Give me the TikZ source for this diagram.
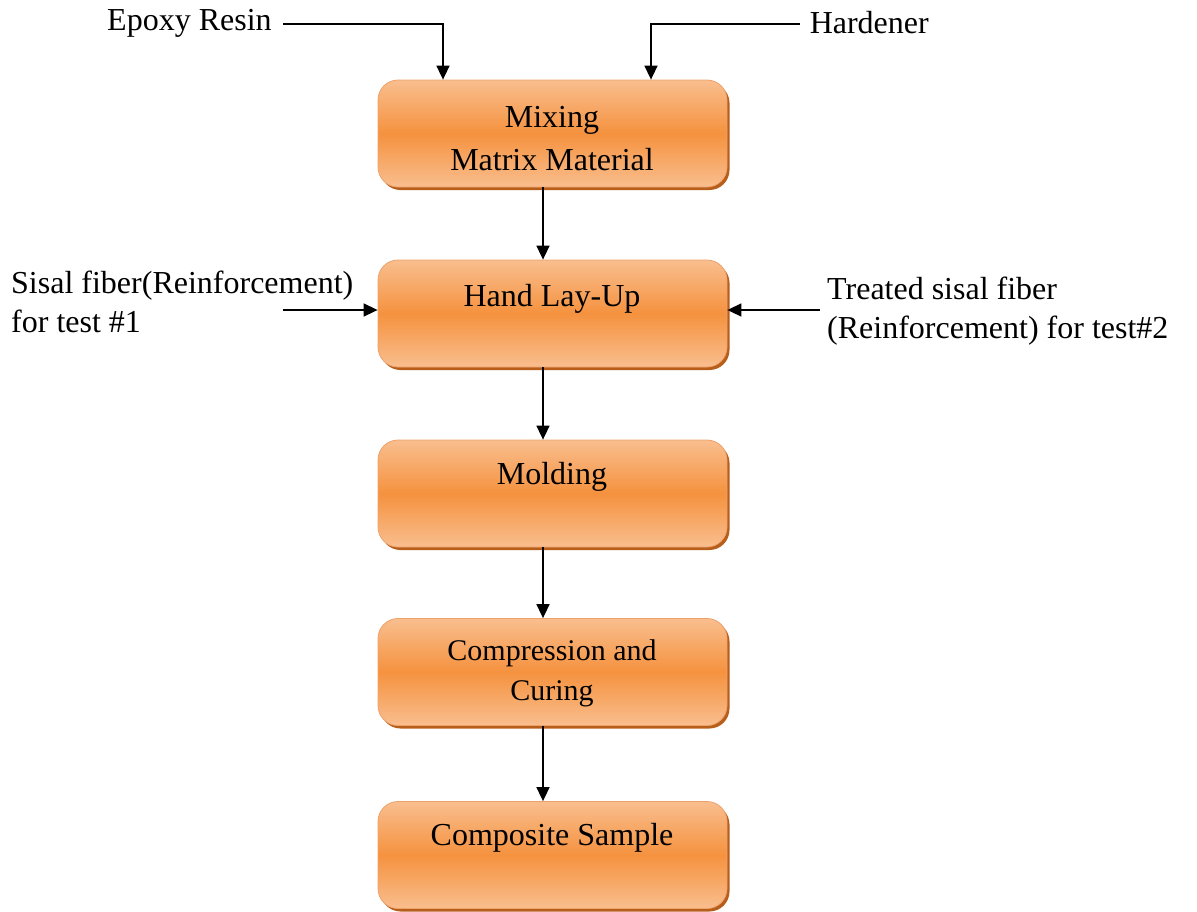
\documentclass[tikz,border=0pt]{standalone}
\usepackage{fontspec}
\setmainfont{Liberation Serif}
\usetikzlibrary{arrows.meta,positioning,calc}

\definecolor{boxlight}{HTML}{F9BE8E}
\definecolor{boxmid}{HTML}{F5923F}
\definecolor{boxedge}{HTML}{EDA26C}
\definecolor{boxshade}{HTML}{B85E1B}

\tikzset{
  x=1pt, y=-1pt,
  stepbox/.style={
    rectangle, rounded corners=20pt,
    minimum width=349pt, minimum height=107pt,
    top color=boxlight, bottom color=boxlight, middle color=boxmid,
    draw=boxedge, line width=0.8pt,
    inner sep=0pt
  },
  shadowbox/.style={
    rectangle, rounded corners=20pt,
    minimum width=349pt, minimum height=107pt,
    fill=boxshade, inner sep=0pt
  },
  boxtext/.style={anchor=north, align=center, inner sep=0pt,
    font=\fontsize{32}{43}\selectfont},
  sidetext/.style={align=left, inner sep=0pt,
    font=\fontsize{32}{39}\selectfont},
  flow/.style={draw=black, line width=1.6pt,
    -{Triangle[length=14pt,width=13pt]}}
}

\begin{document}
\begin{tikzpicture}
\useasboundingbox (0,0) rectangle (1197,911);

% drop shadows under the process boxes
\foreach \yc/\nm in {133.5/s1, 313.5/s2, 493.5/s3, 672/s4, 855/s5}
  \node[shadowbox] (\nm) at (555,\yc+3) {};

% process boxes
\node[stepbox] (b1) at (552.5,133.5) {};
\node[stepbox] (b2) at (552.5,313.5) {};
\node[stepbox] (b3) at (552.5,493.5) {};
\node[stepbox] (b4) at (552.5,672) {};
\node[stepbox] (b5) at (552.5,855) {};

% box captions, set near the top of each box
\node[boxtext] (t1) at (552,106) {Mixing\\Matrix Material};
\node[boxtext] (t2) at (552,284) {Hand Lay-Up};
\node[boxtext] (t3) at (552,462) {Molding};
\node[boxtext, font=\fontsize{30}{40}\selectfont] (t4) at (552,639) {Compression and\\Curing};
\node[boxtext] (t5) at (552,823) {Composite Sample};

% inputs
\node[sidetext, anchor=west] (epoxy) at (107,23) {Epoxy Resin};
\node[sidetext, anchor=east] (hard) at (929,23) {Hardener};
\node[sidetext, anchor=west] (sisal) at (11,302) {Sisal fiber(Reinforcement)\\for test \#1};
\node[sidetext, anchor=west] (treated) at (827,311) {Treated sisal fiber\\(Reinforcement) for test\#2};

\coordinate (eA) at (283,24);
\coordinate (hA) at (800,24);
\coordinate (sA) at (283,310);
\coordinate (tA) at (820,310);

\draw[flow] (eA) -| (b1.north -| 443,0);
\draw[flow] (hA) -| (b1.north -| 651,0);
\draw[flow] (sA) -- (sA -| b2.west);
\draw[flow] (tA) -- (tA -| b2.east);

% main flow
\draw[flow] (b1.south -| 543,0) -- (b2.north -| 543,0);
\draw[flow] (b2.south -| 543,0) -- (b3.north -| 543,0);
\draw[flow] (b3.south -| 543,0) -- (b4.north -| 543,0);
\draw[flow] (b4.south -| 543,0) -- (b5.north -| 543,0);
\end{tikzpicture}
\end{document}
